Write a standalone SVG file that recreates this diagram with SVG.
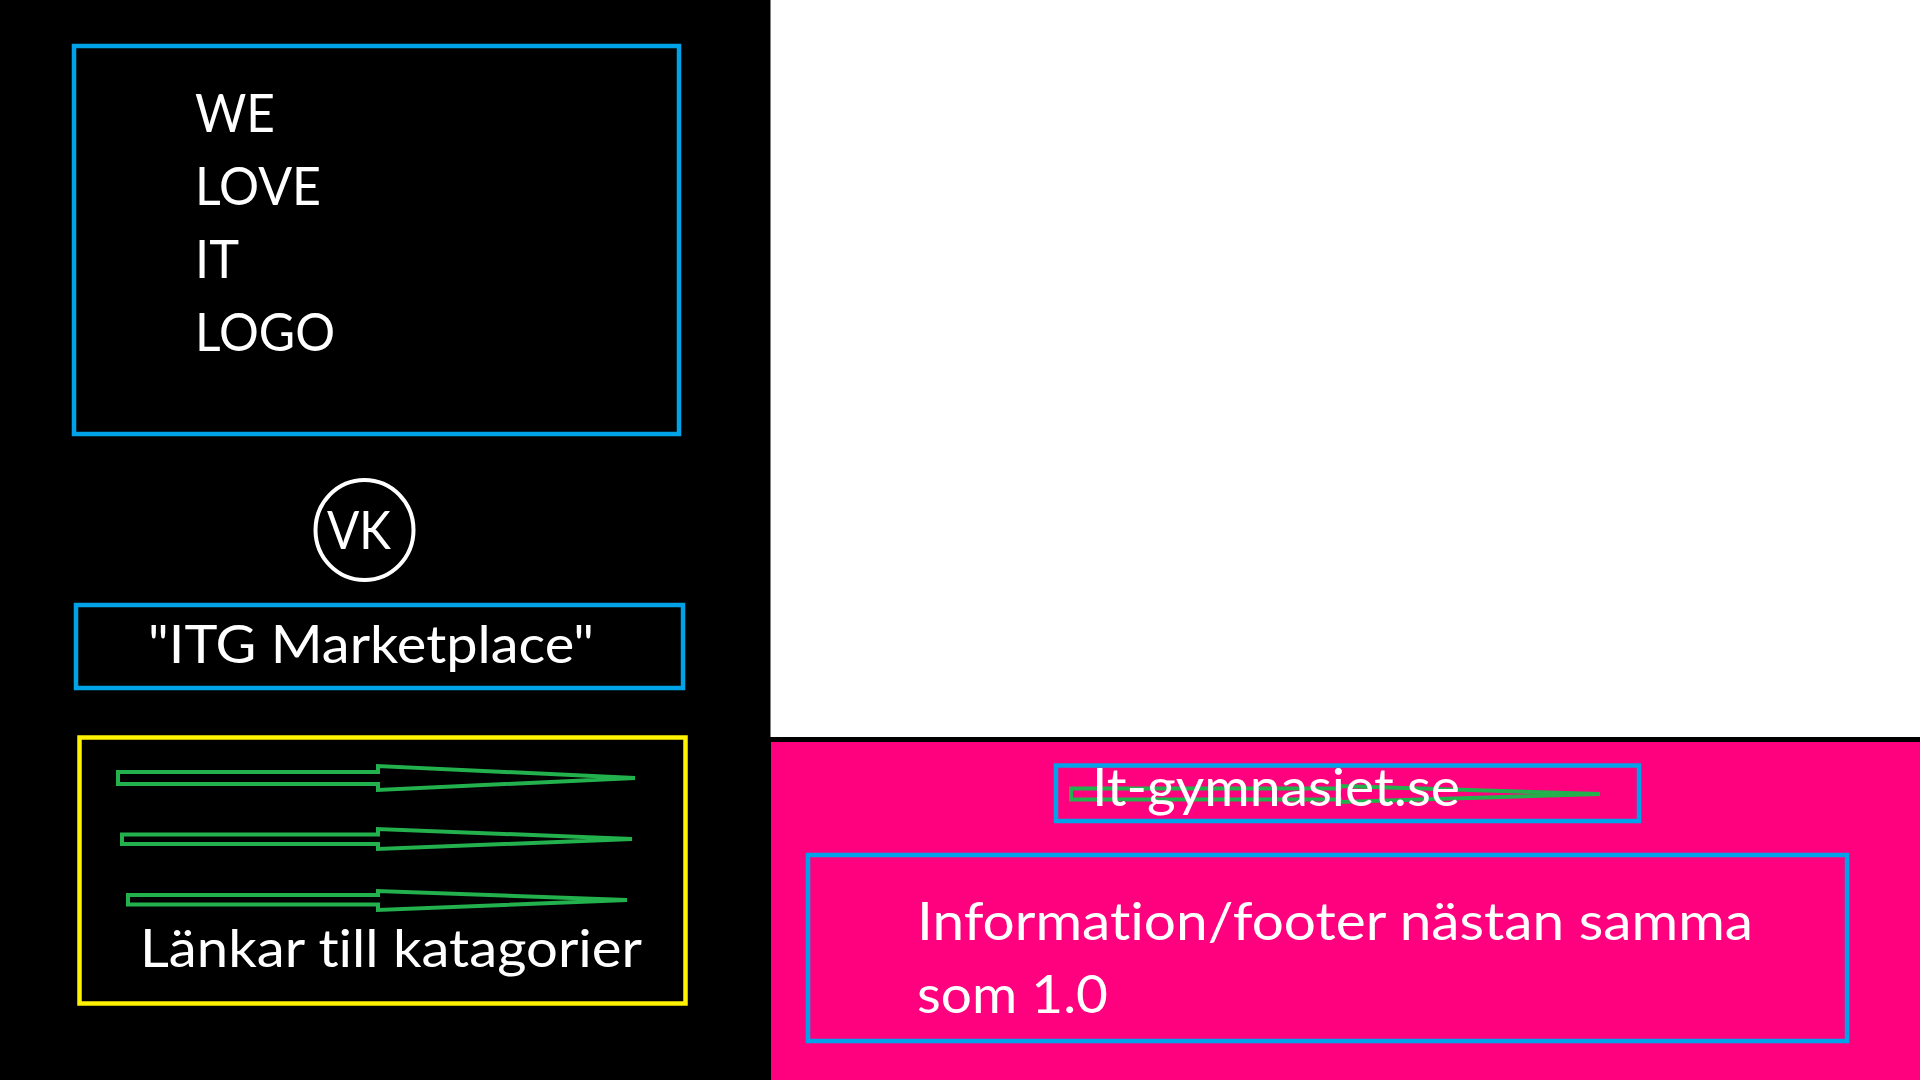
<svg xmlns="http://www.w3.org/2000/svg" width="1920" height="1080" viewBox="0 0 1920 1080">
  <style>
    .box { fill: none; stroke: #00A2E8; stroke-width: 4.5; }
    .ybox { fill: none; stroke: #FFF200; stroke-width: 4.5; }
    .t { font-family: Lato, "Open Sans", "Liberation Sans", sans-serif; font-size: 53px; fill: #FFFFFF; font-variant-ligatures: none; font-feature-settings: "liga" 0, "clig" 0, "dlig" 0; }
    .arrow { fill: none; stroke: #22B14C; stroke-width: 4; stroke-linejoin: miter; }
  </style>
  <g id="background">
    <rect x="0" y="0" width="1920" height="1080" fill="#000000"/>
    <rect x="770.5" y="0" width="1149.5" height="737" fill="#FFFFFF"/>
    <rect x="771" y="742" width="1149" height="338" fill="#FF007F"/>
  </g>
  <g id="logo">
    <rect class="box" x="74" y="46" width="605" height="388"/>
    <text class="t" x="195" y="132" textLength="80" lengthAdjust="spacingAndGlyphs">WE</text>
    <text class="t" x="195" y="205" textLength="126" lengthAdjust="spacingAndGlyphs">LOVE</text>
    <text class="t" x="195" y="278" textLength="44" lengthAdjust="spacingAndGlyphs">IT</text>
    <text class="t" x="195" y="351" textLength="140" lengthAdjust="spacingAndGlyphs">LOGO</text>
  </g>
  <g id="vk">
    <ellipse cx="364.5" cy="530" rx="49" ry="50" fill="none" stroke="#FFFFFF" stroke-width="4"/>
    <text class="t" x="327" y="549" textLength="64" lengthAdjust="spacingAndGlyphs">VK</text>
  </g>
  <g id="title">
    <rect class="box" x="76" y="605" width="607" height="83"/>
    <text class="t" x="148" y="663" textLength="446" lengthAdjust="spacingAndGlyphs">"ITG Marketplace"</text>
  </g>
  <g id="categories">
    <rect class="ybox" x="79.5" y="737.5" width="606" height="266"/>
    <polygon class="arrow" points="118,772 378,772 378,766 635,778 378,790 378,784 118,784"/>
    <polygon class="arrow" points="122,834.5 378,834.5 378,829 632,839 378,849 378,844 122,844"/>
    <polygon class="arrow" points="128,895 378,895 378,891 627,900 378,910 378,904.5 128,904.5"/>
    <text class="t" x="140" y="967" textLength="502" lengthAdjust="spacingAndGlyphs">Länkar till katagorier</text>
  </g>
  <g id="site-link">
    <rect class="box" x="1056" y="765.5" width="583" height="55.5"/>
    <polygon class="arrow" stroke-width="4.5" points="1071,788.5 1340,788.5 1340,786 1600,794 1340,802 1340,799.5 1071,799.5"/>
    <text class="t" x="1092" y="806" textLength="368" lengthAdjust="spacingAndGlyphs">It-gymnasiet.se</text>
  </g>
  <g id="footer">
    <rect class="box" x="808" y="855" width="1039" height="186"/>
    <text class="t" x="917" y="940" textLength="836" lengthAdjust="spacingAndGlyphs">Information/footer nästan samma</text>
    <text class="t" x="917" y="1013" textLength="191" lengthAdjust="spacingAndGlyphs">som 1.0</text>
  </g>
</svg>
